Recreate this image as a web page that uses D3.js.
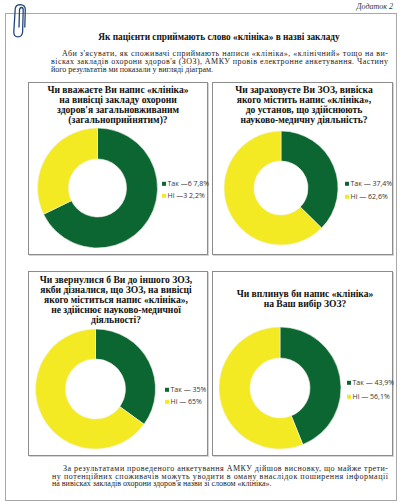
<!DOCTYPE html>
<html><head><meta charset="utf-8">
<script src="https://cdn.jsdelivr.net/npm/d3@7/dist/d3.min.js"></script>
<style>
html,body{margin:0;padding:0;background:#fff;}
svg{display:block;}
</style></head>
<body>
<svg id="c" width="400" height="502"></svg>
<script>
// ---- data ----
const categories = ["Так", "Ні"];
const yesValues = [67.8, 37.4, 35, 43.9];
const noValues  = [32.2, 62.6, 65, 56.1];
const legendLabels = [
  ["Так —6 7,8%", "Ні —3 2,2%"],
  ["Так — 37,4%", "Ні — 62,6%"],
  ["Так — 35%", "Ні — 65%"],
  ["Так — 43,9%", "Ні — 56,1%"]
];
const questionTitles = [
  ["Чи вважаєте Ви напис «клініка»", "на вивісці закладу охорони", "здоров'я загальновживаним", "(загальноприйнятим)?"],
  ["Чи зараховуєте Ви ЗОЗ, вивіска", "якого містить напис «клініка»,", "до установ, що здійснюють", "науково-медичну діяльність?"],
  ["Чи звернулися б Ви до іншого ЗОЗ,", "якби дізналися, що ЗОЗ, на вивісці", "якого міститься напис «клініка»,", "не здійснює науково-медичної", "діяльності?"],
  ["Чи вплинув би напис «клініка»", "на Ваш вибір ЗОЗ?"]
];
const pageLabel = "Додаток 2";
const mainTitle = "Як пацієнти сприймають слово «клініка» в назві закладу";
const introLines = [
  "Аби з'ясувати, як споживачі сприймають написи «клініка», «клінічний» тощо на ви-",
  "вісках закладів охорони здоров'я (ЗОЗ), АМКУ провів електронне анкетування. Частину",
  "його результатів ми показали у вигляді діаграм."
];
const outroLines = [
  "За результатами проведеного анкетування АМКУ дійшов висновку, що майже трети-",
  "ну потенційних споживачів можуть уводити в оману внаслідок поширення інформації",
  "на вивісках закладів охорони здоров'я назви зі словом «клініка»."
];

// ---- layout ----
const svg = d3.select("#c");
const serif = "'Liberation Serif','DejaVu Serif',serif";
const sans = "'Open Sans','Liberation Sans',sans-serif";
const color = d3.scaleOrdinal().domain(categories).range(["#0b6631", "#f4ea24"]);

// page frame
svg.append("rect").attr("x",5.5).attr("y",13.5).attr("width",391).attr("height",487)
  .attr("fill","none").attr("stroke","#a8a8a8").attr("stroke-width",1);

// paperclip
svg.append("path")
  .attr("d","M19 27 L19.5 10 Q19.8 7.5 21.5 7.5 Q23.2 7.5 23.2 10 L22.6 32 Q22.2 36.8 18 36.8 Q13.6 36.8 13.8 32 L15.2 9 Q15.6 4.6 20.2 4.6 Q25.3 4.8 25.3 9.5 L24.8 27")
  .attr("fill","none").attr("stroke","#21467a").attr("stroke-width",1.3).attr("stroke-linecap","round");

svg.append("text").attr("x",393).attr("y",9).attr("text-anchor","end")
  .attr("font-family",serif).attr("font-style","italic").attr("font-size",8).attr("fill","#333")
  .text(pageLabel);

svg.append("text").attr("x",219).attr("y",40).attr("text-anchor","middle")
  .attr("font-family",serif).attr("font-weight","bold").attr("font-size",9.3).attr("fill","#111")
  .text(mainTitle);

function para(lines, x0, x1, y0, lh){
  lines.forEach((t,i)=>{
    const xs = i===0 ? x0+11 : x0;
    const el = svg.append("text").attr("x",xs).attr("y",y0+i*lh)
      .attr("font-family",serif).attr("font-size",8).attr("fill","#222").text(t);
    if(i<lines.length-1){ el.attr("textLength",x1-xs).attr("lengthAdjust","spacing"); }
  });
}
para(introLines, 51, 388, 56, 8);
para(outroLines, 52, 388, 471, 7.7);

const panels = [
  {x:28, y:82, w:179, h:172, cx:97.5, cy:188, r:60, ri:29, tx:118, ty:93, lx:162, ly:[184,196]},
  {x:212, y:82, w:180, h:172, cx:281, cy:188, r:57, ri:27, tx:304, ty:93, lx:345, ly:[184,197]},
  {x:28, y:271, w:179, h:184, cx:95.5, cy:389, r:60, ri:30, tx:116, ty:283, lx:165, ly:[390,402]},
  {x:212, y:271, w:180, h:184, cx:280, cy:388, r:61, ri:30, tx:305, ty:297, lx:347, ly:[383,397]}
];

const pie = d3.pie().sort(null).value(d=>d.v);

panels.forEach((p,i)=>{
  const g = svg.append("g");
  g.append("rect").attr("x",p.x+1.5).attr("y",p.y+1.5).attr("width",p.w).attr("height",p.h)
    .attr("fill","none").attr("stroke","#d4d4d4").attr("stroke-width",1);
  g.append("rect").attr("x",p.x+0.5).attr("y",p.y+0.5).attr("width",p.w).attr("height",p.h)
    .attr("fill","#fff").attr("stroke","#8c8c8c").attr("stroke-width",1);

  questionTitles[i].forEach((t,j)=>{
    g.append("text").attr("x",p.tx).attr("y",p.ty+j*10).attr("text-anchor","middle")
      .attr("font-family",serif).attr("font-weight","bold").attr("font-size",9.6).attr("fill","#111")
      .text(t);
  });

  const data = [{k:categories[0], v:yesValues[i]},{k:categories[1], v:noValues[i]}];
  const arc = d3.arc().innerRadius(p.ri).outerRadius(p.r);
  g.append("g").attr("transform",`translate(${p.cx},${p.cy})`)
    .selectAll("path").data(pie(data)).join("path")
    .attr("d",arc).attr("fill",d=>color(d.data.k))
    .attr("stroke","#f4f4e8").attr("stroke-width",0.6);

  categories.forEach((c,j)=>{
    g.append("rect").attr("x",p.lx).attr("y",p.ly[j]-2.2).attr("width",4).attr("height",4)
      .attr("fill",color(c));
    g.append("text").attr("x",p.lx+5.5).attr("y",p.ly[j]+2.4)
      .attr("font-family",sans).attr("font-size",7).attr("fill","#333")
      .text(legendLabels[i][j]);
  });
});
</script>
</body></html>
